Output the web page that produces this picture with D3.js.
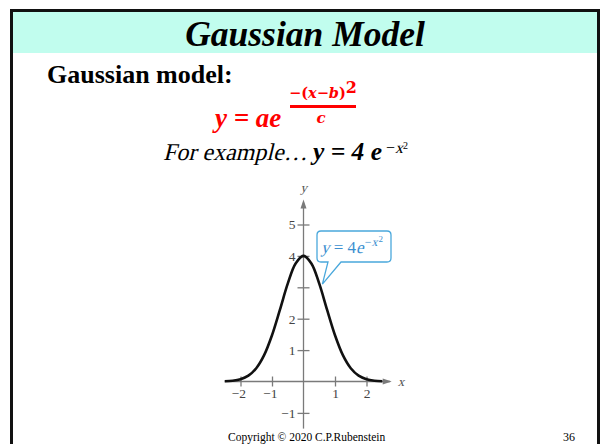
<!DOCTYPE html>
<html><head><meta charset="utf-8">
<script src="https://cdn.jsdelivr.net/npm/d3@7"></script>
<style>body{margin:0;background:#fff}svg{display:block}text{white-space:pre}</style>
</head><body>
<svg id="c" width="600" height="444"></svg>
<script>
// Data
const curveX = [-2.5,-2.25,-2,-1.75,-1.5,-1.25,-1,-0.75,-0.5,-0.25,0,0.25,0.5,0.75,1,1.25,1.5,1.75,2,2.25,2.5];
const curveY = [0.008,0.025,0.073,0.187,0.422,0.838,1.472,2.279,3.115,3.758,4,3.758,3.115,2.279,1.472,0.838,0.422,0.187,0.073,0.025,0.008];
const xTicks = [-2,-1,1,2];
const yTicks = [-1,1,2,3,4,5];
const yTickLabels = ["−1","1","2","","4","5"];
const xTickLabels = ["−2","−1","1","2"];

const svg = d3.select("#c");
const serif = "'Liberation Serif','Times New Roman',serif";

// lay out text runs one after another; italic runs get a synthetic slant
function runs(parent, x0, y0, list, base) {
  let cx = x0;
  list.forEach(r => {
    const yy = y0 + (r.dy || 0);
    const t = parent.append("text")
      .attr("font-family", r.family || base.family || serif)
      .attr("font-size", r.size || base.size)
      .attr("font-weight", r.bold || base.bold ? "bold" : "normal")
      .attr("fill", r.fill || base.fill || "#000")
      .text(r.t);
    if (r.italic) t.attr("transform", `translate(${cx},${yy}) skewX(-14)`);
    else t.attr("x", cx).attr("y", yy);
    cx += t.node().getComputedTextLength() + (r.gap || 0);
  });
  return cx;
}

// slide frame
svg.append("rect").attr("x",13).attr("y",12).attr("width",584).attr("height",41).attr("fill","#c1fdee");
svg.append("path").attr("d","M11.5,444 V10.5 H598.5 V444").attr("fill","none").attr("stroke","#111").attr("stroke-width",3);

svg.append("text").attr("x",305).attr("y",46).attr("text-anchor","middle")
  .attr("font-family",serif).attr("font-weight","bold").attr("font-style","italic").attr("font-size",35.5).text("Gaussian Model");
svg.append("text").attr("x",47).attr("y",83)
  .attr("font-family",serif).attr("font-weight","bold").attr("font-size",26).text("Gaussian model:");

// formula
const red = "#ff0000";
svg.append("text").attr("x",215).attr("y",127).attr("fill",red)
  .attr("font-family",serif).attr("font-weight","bold").attr("font-style","italic").attr("font-size",27).text("y = ae");
const num = svg.append("text").attr("x",289).attr("y",98).attr("fill",red)
  .attr("font-family","'DejaVu Serif',serif").attr("font-weight","bold").attr("font-size",14.5);
num.append("tspan").text("−(");
num.append("tspan").attr("font-style","italic").text("x");
num.append("tspan").text("−");
num.append("tspan").attr("font-style","italic").text("b");
num.append("tspan").text(")");
num.append("tspan").attr("dy",-5).attr("font-size",16).text("2");
svg.append("line").attr("x1",290).attr("x2",356).attr("y1",106.5).attr("y2",106.5).attr("stroke",red).attr("stroke-width",3);
svg.append("text").attr("x",321).attr("y",123).attr("text-anchor","middle").attr("fill",red)
  .attr("font-family","'DejaVu Serif',serif").attr("font-weight","bold").attr("font-style","italic").attr("font-size",15).text("c");

// example line
runs(svg, 163, 160, [{t:"For example…", italic:true}], {size:24});
svg.append("text").attr("x",313).attr("y",160).attr("font-family",serif).attr("font-size",25.5)
  .attr("font-weight","bold").attr("font-style","italic").text("y = 4 e");
runs(svg, 386, 153, [
  {t:"−", size:16},
  {t:"x", size:16, italic:true},
  {t:"2", size:10, dy:-4}
], {size:16});

// chart
const x = d3.scaleLinear().domain([-2,2]).range([240.5,366.5]);
const y = d3.scaleLinear().domain([0,5]).range([381.5,224.5]);
const axisCol = "#7a7a7a";
const g = svg.append("g");

g.append("line").attr("x1",x(-2.5)).attr("x2",x(2.75)).attr("y1",y(0)).attr("y2",y(0)).attr("stroke",axisCol).attr("stroke-width",1.3);
g.append("line").attr("x1",x(0)).attr("x2",x(0)).attr("y1",y(-1.5)).attr("y2",y(5.7)).attr("stroke",axisCol).attr("stroke-width",1.3);
g.append("path").attr("d",`M${x(2.8)},${y(0)} l-9,-3 l0,6 z`).attr("fill",axisCol);
g.append("path").attr("d",`M${x(0)},${y(5.8)} l-3,9 l6,0 z`).attr("fill",axisCol);

const xa = g.append("g").attr("transform",`translate(0,${y(0)})`)
  .call(d3.axisBottom(x).tickValues(xTicks).tickSize(5).tickFormat((d,i)=>xTickLabels[i]));
xa.select(".domain").remove();
xa.selectAll(".tick line").attr("y1",-5).attr("stroke",axisCol).attr("stroke-width",1.3);
xa.selectAll(".tick text").attr("font-family",serif).attr("font-size",13.5).attr("fill","#444").attr("dy","0.6em")
  .attr("text-anchor",d=>d<0?"end":"middle").attr("dx",d=>d<0?"5":"0");

const ya = g.append("g").attr("transform",`translate(${x(0)},0)`)
  .call(d3.axisLeft(y).tickValues(yTicks).tickSize(6).tickFormat((d,i)=>yTickLabels[i]));
ya.select(".domain").remove();
ya.selectAll(".tick line").attr("x1",6).attr("x2",-6).attr("stroke",axisCol).attr("stroke-width",1.3);
ya.selectAll(".tick text").attr("font-family",serif).attr("font-size",13.5).attr("fill","#444").attr("x",-8);

runs(g, x(0)-3, y(5.8)-7, [{t:"y", italic:true}], {size:13, fill:"#555"});
runs(g, x(2.8)+6, y(0)+4, [{t:"x", italic:true}], {size:13, fill:"#555"});

// curve
const pts = curveX.map((v,i)=>[v,curveY[i]]);
g.append("path").datum(pts).attr("fill","none").attr("stroke","#111").attr("stroke-width",2.6)
  .attr("d",d3.line().x(d=>x(d[0])).y(d=>y(d[1])).curve(d3.curveCatmullRom));

// callout
const blue = "#4aa8dc";
const bx0=317, bx1=391, by0=231, by1=262, r=4;
const tipX = x(0.6), tipY = y(3.1);
g.append("path").attr("d",
  `M${bx0+r},${by0} H${bx1-r} Q${bx1},${by0} ${bx1},${by0+r} V${by1-r} Q${bx1},${by1} ${bx1-r},${by1} H341 L${tipX},${tipY} L328,${by1} H${bx0+r} Q${bx0},${by1} ${bx0},${by1-r} V${by0+r} Q${bx0},${by0} ${bx0+r},${by0} Z`)
  .attr("fill","#fff").attr("stroke",blue).attr("stroke-width",1.3);
runs(g, 321, 253, [
  {t:"y", italic:true},
  {t:" = 4"},
  {t:"e", italic:true, gap:1},
  {t:"−", size:12, dy:-7},
  {t:"x", size:12, dy:-7, italic:true, gap:1},
  {t:"2", size:9, dy:-11}
], {size:17, fill:"#3b8fd0"});

// footer
svg.append("text").attr("x",228).attr("y",441).attr("font-family",serif).attr("font-size",11.5).text("Copyright © 2020 C.P.Rubenstein");
svg.append("text").attr("x",563).attr("y",441).attr("font-family",serif).attr("font-size",12).text("36");
</script>
</body></html>
